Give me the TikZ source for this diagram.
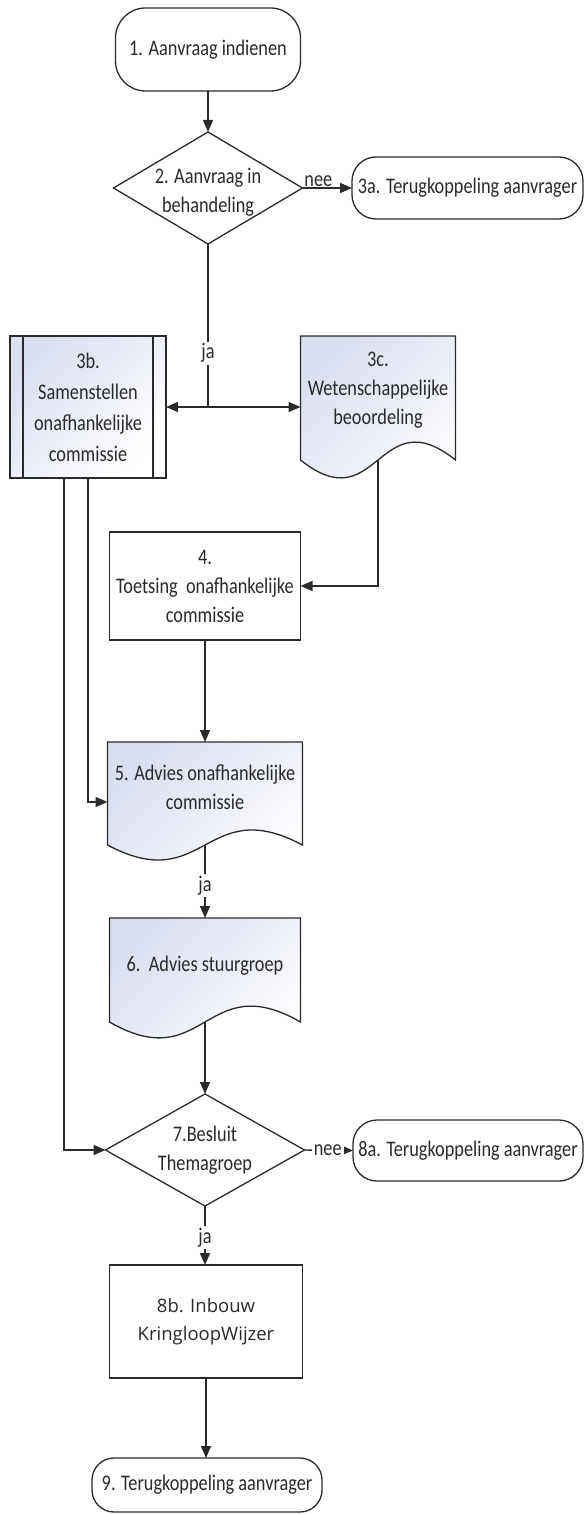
\documentclass[tikz,border=0pt]{standalone}
\usepackage{fontspec}
\setmainfont{Carlito}[FakeStretch=0.82]
\newfontfamily\opensans{Open Sans}
\usetikzlibrary{arrows.meta,shapes.geometric,calc}
\definecolor{ink}{HTML}{2A2A2A}
\definecolor{gradc}{RGB}{218,223,240}
\newcommand\docpath[2]{%
  \path[docstyle] (#1.north west) -- (#1.north east) -- (#1.south east)
    .. controls ($(#1.south)+(0,-#2)$) and ($(#1.south)+(0,#2)$) .. (#1.south west) -- cycle;}
\begin{document}
\begin{tikzpicture}[x=1pt,y=-1pt,
  every node/.style={text=ink, font=\fontsize{22.3}{29}\selectfont, inner sep=0pt, outer sep=0pt, align=center},
  box/.style={draw=ink, line width=1.3pt},
  term/.style={box, rounded corners=#1},
  grad/.style={top color=gradc, bottom color=white, shading angle=45},
  docstyle/.style={draw=ink, line width=1.3pt, grad},
  dec/.style={shape=diamond, draw=ink, line width=1.3pt, fill=white},
  arr/.style={draw=ink, line width=1.4pt, -{Triangle[length=12pt,width=10pt]}},
  plain/.style={draw=ink, line width=1.4pt},
  lbl/.style={fill=white, inner sep=2pt},
]
\useasboundingbox (0,0) rectangle (584,1514);

% nodes
\node[term=30pt, minimum width=185pt, minimum height=83pt] (n1) at (208,49.5) {1. Aanvraag indienen};
\node[dec, minimum width=189pt, minimum height=112pt] (n2) at (208,188) {};
\node (n2t) at (208,192) {2. Aanvraag in\\behandeling};
\node[term=24pt, minimum width=231pt, minimum height=62pt] (n3a) at (467.5,188) {3a. Terugkoppeling aanvrager};

\node[box, grad, minimum width=156pt, minimum height=142pt, font=\fontsize{22.3}{31}\selectfont] (n3b) at (88,407) {3b.\\Samenstellen\\onafhankelijke\\commissie};
\draw[box] ([xshift=13pt]n3b.north west) -- ([xshift=13pt]n3b.south west);
\draw[box] ([xshift=-13pt]n3b.north east) -- ([xshift=-13pt]n3b.south east);

\node[minimum width=155pt, minimum height=124pt] (n3c) at (378,398) {};
\docpath{n3c}{62}
\node (n3ct) at (378,390) {3c.\\Wetenschappelijke\\beoordeling};

\node[box, fill=white, minimum width=191pt, minimum height=108pt] (n4) at (205,586) {4.\\Toetsing\ \ onafhankelijke\\commissie};

\node[minimum width=195pt, minimum height=103pt] (n5) at (205,793.5) {};
\docpath{n5}{52}
\node (n5t) at (205,787.5) {5. Advies onafhankelijke\\commissie};

\node[minimum width=191pt, minimum height=104pt] (n6) at (205,970) {};
\docpath{n6}{55}
\node (n6t) at (205,966) {6.\ \ Advies stuurgroep};

\node[dec, minimum width=199pt, minimum height=112pt] (n7) at (205,1150) {};
\node (n7t) at (205,1150.5) {7.Besluit\\Themagroep};
\node[term=24pt, minimum width=230pt, minimum height=61pt] (n8a) at (468,1150.5) {8a. Terugkoppeling aanvrager};

\node[box, fill=white, minimum width=193pt, minimum height=113pt, font=\opensans\fontsize{18.5}{28}\selectfont] (n8b) at (206,1321.5) {8b. Inbouw\\KringloopWijzer};
\node[term=22pt, minimum width=230pt, minimum height=54pt] (n9) at (207,1485) {9. Terugkoppeling aanvrager};

% connectors
\draw[arr] (n1.south) -- (n2.north);
\draw[arr] (n2.east) -- node[above=1pt, pos=0.32]{nee} (n3a.west);
\coordinate (split) at (n2.south |- n3b.east);
\draw[plain] (n2.south) -- node[lbl, pos=0.67]{ja} (split);
\draw[arr] (split) -- (n3b.east);
\draw[arr] (split) -- (split -| n3c.west);
\draw[arr] (n3c.south) |- (n4.east);
\draw[arr] (n4.south) -- (n4.south |- n5.north);
\draw[arr] (n3b.south) |- ([yshift=-8.5pt]n5.west);
\draw[arr] ([xshift=-24pt]n3b.south) |- (n7.west);
\draw[arr] (n5.south) -- node[lbl, pos=0.56]{ja} (n6.north);
\draw[arr] (n6.south) -- (n7.north);
\draw[arr] (n7.east) -- node[lbl, pos=0.48]{nee} (n8a.west);
\draw[arr] (n7.south) -- node[lbl, pos=0.54]{ja} (n7.south |- n8b.north);
\draw[arr] (n8b.south) -- (n8b.south |- n9.north);
\end{tikzpicture}
\end{document}
